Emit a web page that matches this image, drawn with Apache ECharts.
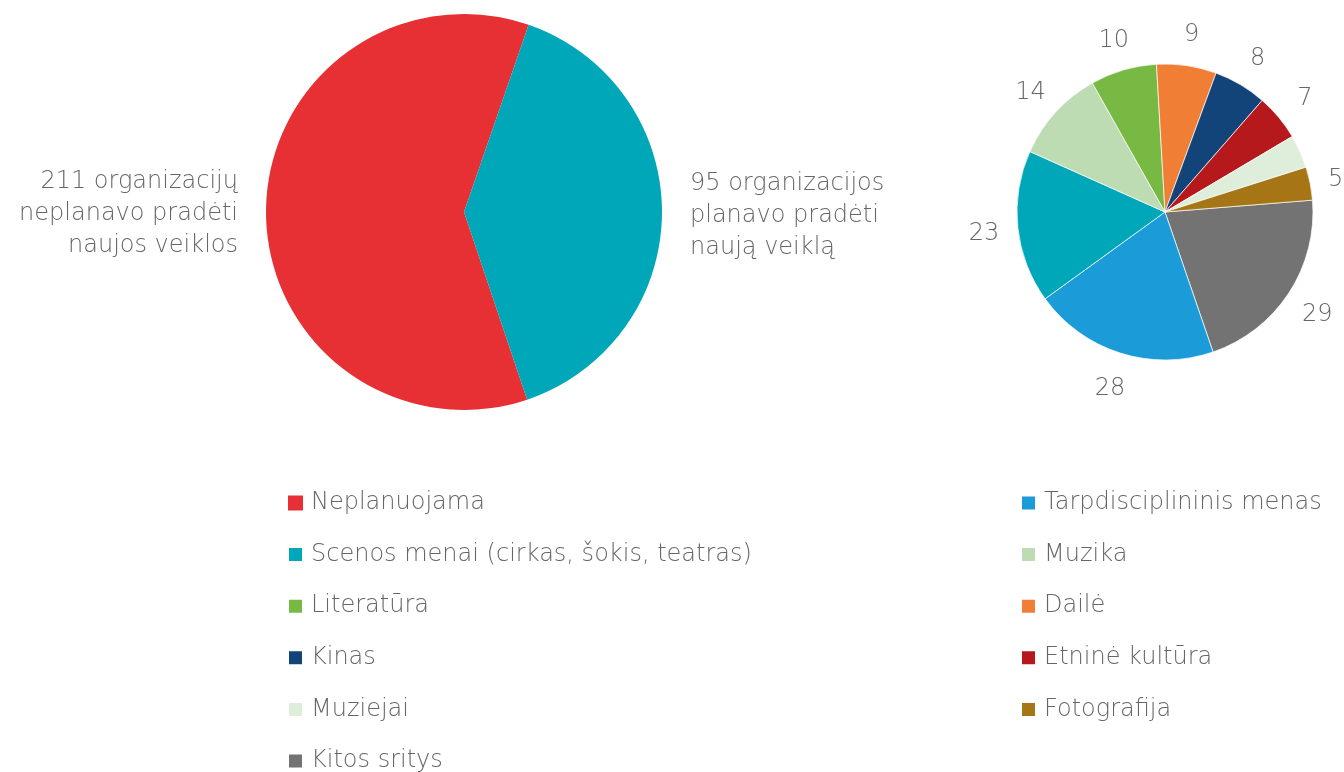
<!DOCTYPE html>
<html>
<head>
<meta charset="utf-8">
<script src="https://cdn.jsdelivr.net/npm/echarts@6/dist/echarts.min.js"></script>
<style>
  html, body { margin: 0; padding: 0; background: #fff; }
  #chart { width: 1344px; height: 772px; }
</style>
</head>
<body>
<div id="chart"></div>
<script>
// left pie: organisations that did / did not plan new activity
// (teal slice is the sum of the areas on the right pie)
var mainNames = ['Neplanuojama', 'Planuojama'];
var mainValues = [211, 138];
var mainLabels = ['211 organizacijų\nneplanavo pradėti\nnaujos veiklos', '95 organizacijos\nplanavo pradėti\nnaują veiklą'];
var mainColors = ['#E63034', '#00A7B8'];

// right pie: planned areas
var areaNames = ['Kitos sritys', 'Tarpdisciplininis menas', 'Scenos menai (cirkas, šokis, teatras)', 'Muzika',
    'Literatūra', 'Dailė', 'Kinas', 'Etninė kultūra', 'Muziejai', 'Fotografija'];
var areaValues = [29, 28, 23, 14, 10, 9, 8, 7, 5, 5];
var areaColors = ['#737373', '#1B9BD7', '#00A7B8', '#BDDCB3', '#78B943', '#F07E34', '#12447A', '#B5191B', '#DFEEDA', '#A67616'];
var areaHideLabel = ['Muziejai'];

var legendLeft = ['Neplanuojama', 'Scenos menai (cirkas, šokis, teatras)', 'Literatūra', 'Kinas', 'Muziejai', 'Kitos sritys'];
var legendRight = ['Tarpdisciplininis menas', 'Muzika', 'Dailė', 'Etninė kultūra', 'Fotografija'];

var textColor = '#666666';
var fontFam = '"DejaVu Sans", "Open Sans", sans-serif';
var fontW = 200;

var mainData = [];
for (var i = 0; i < mainNames.length; i++) {
    mainData.push({ name: mainNames[i], value: mainValues[i], label: { formatter: mainLabels[i] }, itemStyle: { color: mainColors[i] } });
}
var areaData = [];
var areaLabelData = [];
for (var j = 0; j < areaNames.length; j++) {
    areaData.push({ name: areaNames[j], value: areaValues[j], itemStyle: { color: areaColors[j] } });
    areaLabelData.push({
        name: areaNames[j], value: areaValues[j],
        label: { show: areaHideLabel.indexOf(areaNames[j]) < 0 }
    });
}

function legendCfg(left, data) {
    return {
        orient: 'vertical',
        left: left,
        top: 486,
        height: 420,
        data: data,
        icon: 'rect',
        itemWidth: 15,
        itemHeight: 15,
        itemGap: 27.6,
        selectedMode: false,
        textStyle: { color: textColor, fontSize: 24, fontFamily: fontFam, fontWeight: fontW, padding: [0, 0, 0, 3] }
    };
}

var myChart = echarts.init(document.getElementById('chart'));
myChart.setOption({
    animation: false,
    legend: [legendCfg(282, legendLeft), legendCfg(1015, legendRight)],
    series: [{
        name: 'Planavimas',
        type: 'pie',
        center: [464, 212],
        radius: 198,
        startAngle: -71.4,
        clockwise: true,
        data: mainData,
        label: {
            show: true,
            position: 'outside',
            color: textColor,
            fontSize: 24,
            lineHeight: 32,
            fontFamily: fontFam,
            fontWeight: fontW
        },
        labelLine: { show: false, length: 12, length2: 11 },
        labelLayout: { dy: 3 },
        emphasis: { disabled: true }
    }, {
        name: 'Sritys',
        type: 'pie',
        center: [1165, 212],
        radius: 148,
        startAngle: 4.6,
        clockwise: true,
        data: areaData,
        itemStyle: { borderColor: '#fff', borderWidth: 0.7 },
        label: { show: false },
        emphasis: { disabled: true }
    }, {
        // transparent ring used only to place the value labels outside the slices
        name: 'Sritys-labels',
        type: 'pie',
        center: [1165, 212],
        radius: [148, 210],
        startAngle: 4.6,
        clockwise: true,
        silent: true,
        data: areaLabelData,
        itemStyle: { color: 'rgba(0,0,0,0)' },
        label: {
            position: 'inside',
            formatter: '{c}',
            color: textColor,
            fontSize: 24,
            fontFamily: fontFam,
            fontWeight: fontW
        },
        labelLayout: function (p) {
            // keep the last label inside the canvas
            return { dx: p.dataIndex === areaNames.length - 1 ? -8 : 0, dy: 3 };
        },
        labelLine: { show: false },
        emphasis: { disabled: true }
    }]
});
</script>
</body>
</html>
